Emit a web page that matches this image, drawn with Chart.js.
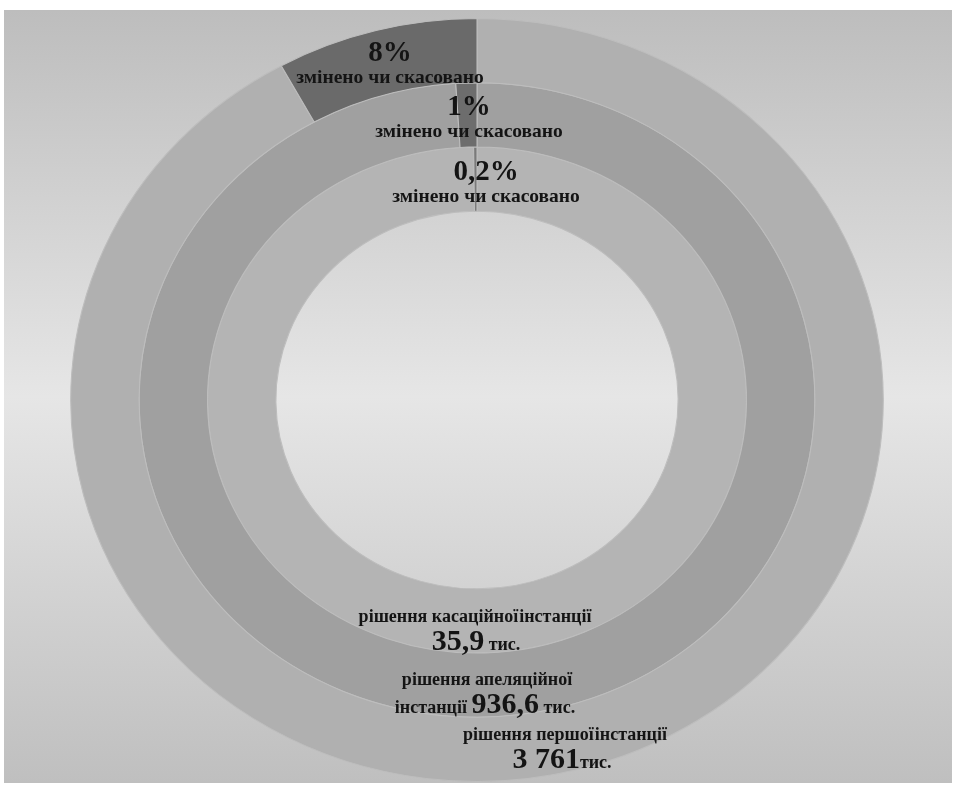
<!DOCTYPE html>
<html>
<head>
<meta charset="utf-8">
<script src="https://cdn.jsdelivr.net/npm/chart.js@4"></script>
<style>
  html, body { margin: 0; padding: 0; background: #ffffff; }
  #wrap { position: relative; width: 957px; height: 787px; }
</style>
</head>
<body>
<div id="wrap"><canvas id="c" width="957" height="787"></canvas></div>
<script>
// ---- data ----
const rings = ['рішення першої інстанції', 'рішення апеляційної інстанції', 'рішення касаційної інстанції'];
const segmentLabels = ['залишено без змін', 'змінено чи скасовано'];
const totalsThousand = [3761, 936.6, 35.9];
const totalsText = ['3 761', '936,6', '35,9'];
const keptPct = [92, 99, 99.8];
const changedPct = [8, 1, 0.2];
const changedText = ['8%', '1%', '0,2%'];

const ringColors = ['#b0b0b0', '#a0a0a0', '#b4b4b4'];
const changedColors = ['#6a6a6a', '#6d6d6d', '#7a7a7a'];

const STRETCH_X = 1.065;
const FONT = '"Liberation Serif", "Times New Roman", serif';

function drawRuns(ctx, runs, cx, baseline) {
  let total = 0;
  runs.forEach(r => {
    ctx.font = 'bold ' + r.size + 'px ' + FONT;
    r.w = ctx.measureText(r.text).width + (r.gap || 0);
    total += r.w;
  });
  let x = cx - total / 2;
  ctx.textAlign = 'left';
  ctx.textBaseline = 'alphabetic';
  runs.forEach(r => { ctx.font = 'bold ' + r.size + 'px ' + FONT; ctx.fillText(r.text, x, baseline); x += r.w; });
}

const panelPlugin = {
  id: 'panel',
  beforeDraw(chart) {
    const ctx = chart.ctx;
    ctx.save();
    ctx.fillStyle = '#ffffff';
    ctx.fillRect(0, 0, chart.width, chart.height);
    const g = ctx.createLinearGradient(0, 10, 0, 783);
    g.addColorStop(0, '#bdbdbd');
    g.addColorStop(0.5, '#e6e6e6');
    g.addColorStop(1, '#bfbfbf');
    ctx.fillStyle = g;
    ctx.fillRect(4, 10, 948, 773);
    ctx.restore();
  },
  beforeDatasetsDraw(chart) {
    const ctx = chart.ctx;
    const a = chart.chartArea;
    const cx = (a.left + a.right) / 2, cy = (a.top + a.bottom) / 2;
    ctx.save();
    ctx.translate(cx, cy);
    ctx.scale(STRETCH_X, 1);
    ctx.translate(-cx, -cy);
  },
  afterDatasetsDraw(chart) {
    chart.ctx.restore();
  },
  afterDraw(chart) {
    const ctx = chart.ctx;
    const a = chart.chartArea;
    const cx = (a.left + a.right) / 2, cy = (a.top + a.bottom) / 2;
    ctx.save();
    ctx.fillStyle = '#141414';
    const sub = 'змінено чи скасовано';
    const big = 29, small = 19.5, low = 18, num = 30;
    // changed-share labels (outer, middle, inner)
    drawRuns(ctx, [{text: changedText[0], size: big}], cx - 87, cy - 339);
    drawRuns(ctx, [{text: sub, size: small}], cx - 87, cy - 317);
    drawRuns(ctx, [{text: changedText[1], size: big}], cx - 8, cy - 285);
    drawRuns(ctx, [{text: sub, size: small}], cx - 8, cy - 263);
    drawRuns(ctx, [{text: changedText[2], size: big}], cx + 9, cy - 220);
    drawRuns(ctx, [{text: sub, size: small}], cx + 9, cy - 198);
    // totals labels
    drawRuns(ctx, [{text: 'рішення касаційної', size: low, gap: 1}, {text: 'інстанції', size: low}], cx - 2, cy + 222);
    drawRuns(ctx, [{text: totalsText[2], size: num}, {text: ' тис.', size: low}], cx - 1, cy + 250);
    drawRuns(ctx, [{text: 'рішення апеляційної', size: low}], cx + 10, cy + 285);
    drawRuns(ctx, [{text: 'інстанції ', size: low}, {text: totalsText[1], size: num}, {text: ' тис.', size: low}], cx + 8, cy + 313);
    drawRuns(ctx, [{text: 'рішення першої', size: low, gap: 1}, {text: 'інстанції', size: low}], cx + 88, cy + 340);
    drawRuns(ctx, [{text: totalsText[0], size: num}, {text: 'тис.', size: low}], cx + 85, cy + 368);
    ctx.restore();
  }
};

const datasets = rings.map((r, i) => ({
  label: r,
  data: [keptPct[i], changedPct[i]],
  backgroundColor: [ringColors[i], changedColors[i]],
  borderColor: '#bdbdbd',
  borderWidth: 1
}));

new Chart(document.getElementById('c'), {
  type: 'doughnut',
  data: { labels: segmentLabels, datasets },
  options: {
    responsive: false,
    animation: false,
    events: [],
    cutout: '49.5%',
    rotation: 0,
    layout: { padding: { top: 18, bottom: 5, left: 0, right: 3 } },
    plugins: { legend: { display: false }, tooltip: { enabled: false }, title: { display: false } }
  },
  plugins: [panelPlugin]
});
</script>
</body>
</html>
